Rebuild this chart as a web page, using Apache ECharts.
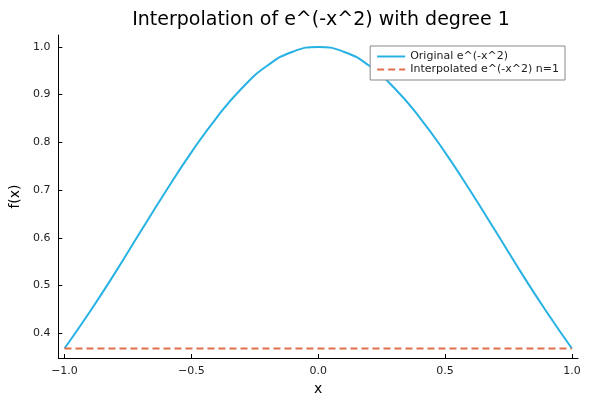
<!DOCTYPE html>
<html lang="en">
<head>
    <meta charset="UTF-8">
    <title>Interpolation of e^(-x^2)</title>
    <script src="https://cdn.jsdelivr.net/npm/echarts@6/dist/echarts.min.js"></script>
    <style>body{margin:0;background:#fff}</style>
</head>
<body>
    <div id="main" style="width: 600px; height: 403px;"></div>
    <script>
        // values
        var xs = [-1.0, -0.9, -0.8, -0.7, -0.6, -0.5, -0.4, -0.3, -0.2, -0.1, 0.0,
                  0.1, 0.2, 0.3, 0.4, 0.5, 0.6, 0.7, 0.8, 0.9, 1.0];
        var original = [0.368, 0.445, 0.527, 0.613, 0.698, 0.779, 0.852, 0.914, 0.961, 0.990, 1.0,
                        0.990, 0.961, 0.914, 0.852, 0.779, 0.698, 0.613, 0.527, 0.445, 0.368];
        var interpX = [-1.0, 1.0];
        var interpolated = [0.368, 0.368];
        var xTicks = [-1.0, -0.5, 0.0, 0.5, 1.0];
        var yTicks = [0.4, 0.5, 0.6, 0.7, 0.8, 0.9, 1.0];

        var myChart = echarts.init(document.getElementById('main'));
        var font = 'DejaVu Sans';

        var option = {
            animation: false,
            textStyle: { fontFamily: font },
            title: {
                text: 'Interpolation of e^(-x^2) with degree 1',
                left: 316, top: 6, textAlign: 'center',
                textStyle: { fontSize: 19, fontWeight: 'normal', color: '#000', fontFamily: font }
            },
            legend: {
                orient: 'vertical',
                right: 35, top: 46,
                itemWidth: 28, itemHeight: 8, itemGap: 2,
                padding: [5, 6],
                borderColor: '#888', borderWidth: 1, backgroundColor: '#fff',
                itemStyle: { opacity: 0, borderWidth: 0 },
                textStyle: { fontSize: 11, color: '#222' },
                data: ['Original e^(-x^2)', 'Interpolated e^(-x^2) n=1']
            },
            grid: { left: 55, right: 22, top: 35, bottom: 45 },
            xAxis: {
                type: 'value', min: -1.024, max: 1.024,
                name: 'x', nameLocation: 'middle', nameGap: 24,
                nameTextStyle: { fontSize: 14, color: '#000' },
                axisLine: { onZero: false, lineStyle: { color: '#000' } },
                axisTick: { customValues: xTicks, length: 4, inside: true, lineStyle: { color: '#000' } },
                axisLabel: {
                    customValues: xTicks, color: '#222', fontSize: 11,
                    formatter: function (v) { return (v < 0 ? '\u2212' + (-v).toFixed(1) : v.toFixed(1)); }
                },
                splitLine: { show: false }
            },
            yAxis: {
                type: 'value', min: 0.348, max: 1.025,
                name: 'f(x)', nameLocation: 'middle', nameGap: 36,
                nameTextStyle: { fontSize: 14, color: '#000' },
                axisLine: { show: true, onZero: false, lineStyle: { color: '#000' } },
                axisTick: { show: true, customValues: yTicks, length: 4, inside: true, lineStyle: { color: '#000' } },
                axisLabel: {
                    customValues: yTicks, color: '#222', fontSize: 11,
                    formatter: function (v) { return v.toFixed(1); }
                },
                splitLine: { show: false }
            },
            series: [
                {
                    name: 'Original e^(-x^2)', type: 'line', smooth: true, symbol: 'none',
                    lineStyle: { color: '#27b2e3', width: 2 }, itemStyle: { color: '#27b2e3' },
                    data: xs.map(function (x, i) { return [x, original[i]]; })
                },
                {
                    name: 'Interpolated e^(-x^2) n=1', type: 'line', symbol: 'none',
                    lineStyle: { color: '#e0704a', width: 2, type: [7, 4] }, itemStyle: { color: '#e0704a' },
                    data: interpX.map(function (x, i) { return [x, interpolated[i]]; })
                }
            ]
        };

        myChart.setOption(option);
    </script>
</body>
</html>
